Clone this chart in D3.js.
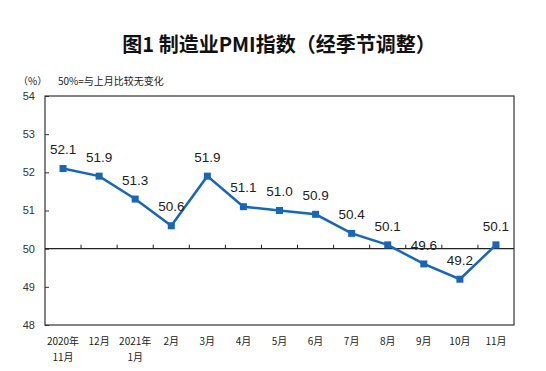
<!DOCTYPE html>
<html>
<head>
<meta charset="utf-8">
<script src="https://cdn.jsdelivr.net/npm/d3@7"></script>
<style>
  body { margin: 0; background: #fff; }
  svg { display: block; }
</style>
</head>
<body>
<div id="chart"></div>
<script>
// data
const months = ["2020年\n11月", "12月", "2021年\n1月", "2月", "3月", "4月", "5月", "6月", "7月", "8月", "9月", "10月", "11月"]
const pmi = [52.1, 51.9, 51.3, 50.6, 51.9, 51.1, 51.0, 50.9, 50.4, 50.1, 49.6, 49.2, 50.1]
const yTicks = [48, 49, 50, 51, 52, 53, 54]

const width = 546, height = 371
const margin = { top: 96, right: 32, bottom: 46, left: 45 }
const lineColor = "#1766ba"
const cjk = "'Noto Sans CJK SC', 'Liberation Sans', sans-serif"

const svg = d3.select("#chart").append("svg")
  .attr("width", width)
  .attr("height", height)

const x = d3.scaleBand()
  .domain(d3.range(months.length))
  .range([margin.left, width - margin.right])

const y = d3.scaleLinear()
  .domain([48, 54])
  .range([height - margin.bottom, margin.top])

// title
svg.append("text")
  .attr("x", 279).attr("y", 52)
  .attr("text-anchor", "middle")
  .style("font-family", cjk)
  .style("font-weight", 600)
  .style("font-size", "20px")
  .attr("fill", "#111")
  .text("图1 制造业PMI指数（经季节调整）")

svg.append("text")
  .attr("x", 18).attr("y", 85)
  .style("font-family", cjk)
  .style("font-size", "10px")
  .attr("fill", "#222")
  .text("（%）")

svg.append("text")
  .attr("x", 58).attr("y", 85)
  .style("font-family", cjk)
  .style("font-size", "10px")
  .attr("fill", "#222")
  .text("50%=与上月比较无变化")

// y axis on the left edge, ticks pointing inward
const yAxis = svg.append("g")
  .attr("transform", `translate(${margin.left},0)`)
  .call(d3.axisRight(y).tickValues(yTicks).tickSize(4).tickFormat(""))
yAxis.select(".domain").remove()
yAxis.selectAll("line").attr("stroke", "#333")

svg.append("g").selectAll("text")
  .data(yTicks)
  .join("text")
  .attr("x", 35)
  .attr("y", d => y(d))
  .attr("dy", "0.35em")
  .attr("text-anchor", "end")
  .style("font-family", "'Liberation Sans', Arial, sans-serif")
  .style("font-size", "11px")
  .attr("fill", "#333")
  .text(d => d)

// box
svg.append("rect")
  .attr("x", margin.left).attr("y", margin.top)
  .attr("width", width - margin.left - margin.right)
  .attr("height", height - margin.top - margin.bottom)
  .attr("fill", "none")
  .attr("stroke", "#333")
  .attr("stroke-width", 1.2)

// 50 line with category ticks
svg.append("line")
  .attr("x1", margin.left).attr("x2", width - margin.right)
  .attr("y1", y(50)).attr("y2", y(50))
  .attr("stroke", "#222")
  .attr("stroke-width", 1.2)

svg.append("g").selectAll("line")
  .data(d3.range(1, months.length))
  .join("line")
  .attr("x1", i => x(i)).attr("x2", i => x(i))
  .attr("y1", y(50)).attr("y2", y(50) - 4)
  .attr("stroke", "#222")

// category labels
const cat = svg.append("g").selectAll("text")
  .data(months)
  .join("text")
  .attr("x", (d, i) => x(i) + x.bandwidth() / 2)
  .attr("y", 345)
  .attr("text-anchor", "middle")
  .style("font-family", cjk)
  .style("font-size", "10px")
  .attr("fill", "#222")
cat.selectAll("tspan")
  .data(d => d.split("\n"))
  .join("tspan")
  .attr("x", function() { return this.parentNode.getAttribute("x") })
  .attr("dy", (d, i) => i === 0 ? 0 : 16)
  .text(d => d)

// line
const cx = i => x(i) + x.bandwidth() / 2
svg.append("path")
  .datum(pmi)
  .attr("fill", "none")
  .attr("stroke", lineColor)
  .attr("stroke-width", 2.5)
  .attr("d", d3.line().x((d, i) => cx(i)).y(d => y(d)))

svg.append("g").selectAll("rect")
  .data(pmi)
  .join("rect")
  .attr("x", (d, i) => cx(i) - 3.5)
  .attr("y", d => y(d) - 3.5)
  .attr("width", 7).attr("height", 7)
  .attr("fill", lineColor)

svg.append("g").selectAll("text")
  .data(pmi)
  .join("text")
  .attr("x", (d, i) => cx(i))
  .attr("y", d => y(d) - 19)
  .attr("dy", "0.35em")
  .attr("text-anchor", "middle")
  .style("font-family", "'Liberation Sans', Arial, sans-serif")
  .style("font-size", "13.5px")
  .attr("fill", "#222")
  .text(d => d.toFixed(1))
</script>
</body>
</html>
